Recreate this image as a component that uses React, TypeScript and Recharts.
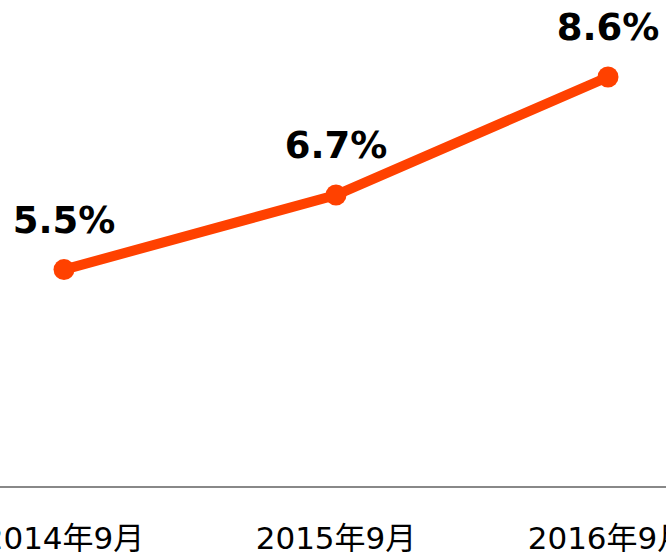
import React from "react";
import { LineChart, Line, XAxis, YAxis, LabelList } from "recharts";

const categories = ["2014年9月", "2015年9月", "2016年9月"];
const values = [5.5, 6.7, 8.6];

const data = categories.map((c, i) => ({ name: c, value: values[i] }));

const FONT = "'DejaVu Sans', 'Noto Sans CJK JP', sans-serif";
const COLOR = "#FF4100";

const Tick = (props: any) => {
  const { x, y, payload } = props;
  return (
    <text x={x} y={y} dy={22} textAnchor="middle" fill="#000" fontFamily={FONT} fontSize={31}>
      {payload.value}
    </text>
  );
};

const Label = (props: any) => {
  const { x, y, value } = props;
  return (
    <text x={x} y={y - 37} textAnchor="middle" fill="#000" fontFamily={FONT} fontSize={37} fontWeight="bold">
      {`${value.toFixed(1)}%`}
    </text>
  );
};

const Dot = (props: any) => {
  const { cx, cy, index } = props;
  return <circle key={`dot-${index}`} cx={cx} cy={cy} r={10.5} fill={COLOR} stroke="none" />;
};

export default function App() {
  return (
    <div style={{ position: "absolute", left: 0, top: 0, width: 666, height: 552, background: "#fff", overflow: "hidden" }}>
      <LineChart width={666} height={552} data={data} margin={{ top: 0, right: 0, bottom: 0, left: 0 }}>
        <XAxis
          dataKey="name"
          scale="point"
          padding={{ left: 64, right: 58 }}
          height={65}
          axisLine={{ stroke: "#888", strokeWidth: 2 }}
          tickLine={false}
          tickSize={0}
          tickMargin={40}
          tick={<Tick />}
          interval={0}
        />
        <YAxis hide domain={[2, 9.84]} allowDataOverflow />
        <Line
          dataKey="value"
          stroke={COLOR}
          strokeWidth={10}
          dot={<Dot />}
          activeDot={false}
          isAnimationActive={false}
        >
          <LabelList dataKey="value" content={<Label />} />
        </Line>
      </LineChart>
    </div>
  );
}
